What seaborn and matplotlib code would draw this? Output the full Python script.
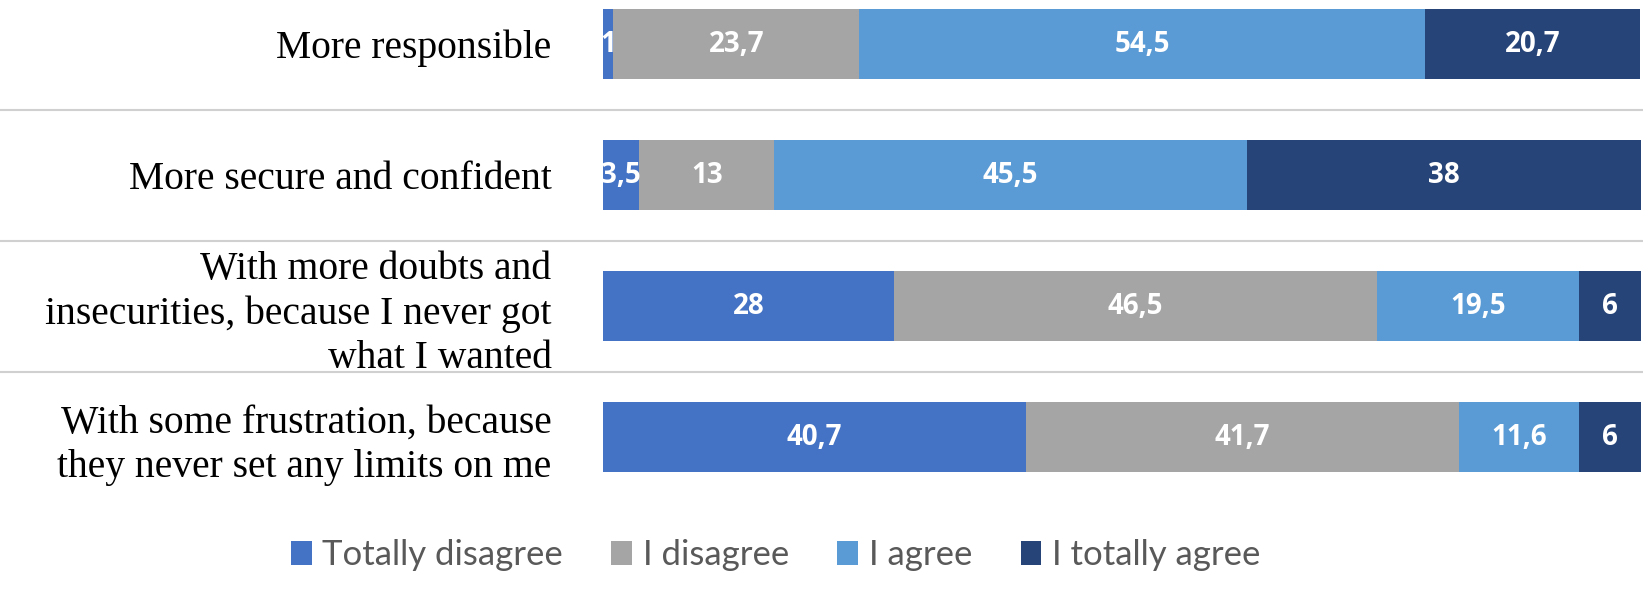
import numpy as np
import pandas as pd
import seaborn as sns
import matplotlib.pyplot as plt
from matplotlib.patches import Patch
from matplotlib.transforms import blended_transform_factory

# datos
items = ["More responsible",
         "More secure and confident",
         "With more doubts and\ninsecurities, because I never got\nwhat I wanted",
         "With some frustration, because\nthey never set any limits on me"]
answers = ["Totally disagree", "I disagree", "I agree", "I totally agree"]
totally_disagree = [1, 3.5, 28, 40.7]
disagree = [23.7, 13, 46.5, 41.7]
agree = [54.5, 45.5, 19.5, 11.6]
totally_agree = [20.7, 38, 6, 6]
colors = ["#4472C4", "#A5A5A5", "#5B9BD5", "#264478"]

df = pd.DataFrame({"item": items,
                   answers[0]: totally_disagree,
                   answers[1]: disagree,
                   answers[2]: agree,
                   answers[3]: totally_agree})
vals = df[answers].to_numpy()
cum = vals.cumsum(axis=1)

sns.set_style("white")
plt.rcParams["font.family"] = ["Lato", "DejaVu Sans"]

fig = plt.figure(figsize=(16.43, 5.92), dpi=100)
ax = fig.add_axes([0.367, 92 / 592, 0.632, 500 / 592])

# barras apiladas: se dibuja la suma acumulada de mayor a menor
for i in reversed(range(len(answers))):
    sns.barplot(x=cum[:, i], y=df["item"], color=colors[i], orient="h",
                width=0.54, saturation=1, linewidth=0, ax=ax)

# etiquetas de cada segmento
for r in range(len(items)):
    for i in range(len(answers)):
        v = vals[r, i]
        ax.text(cum[r, i] - v / 2, r, f"{v:g}".replace(".", ","),
                ha="center", va="center", color="white",
                fontsize=20, fontweight="bold", family="Open Sans")

# lineas separadoras entre filas
trans = blended_transform_factory(fig.transFigure, ax.transData)
for yy in [0.5, 1.5, 2.5]:
    ax.plot([0, 1], [yy, yy], transform=trans, color="#D0D0D0",
            linewidth=1.5, clip_on=False)

ax.set_xlim(0, 100)
ax.set_ylim(3.48, -0.336)
ax.set_xticks([])
ax.set_xlabel("")
ax.set_ylabel("")
sns.despine(ax=ax, left=True, bottom=True)
ax.tick_params(axis="y", length=0, pad=37)
for lab in ax.get_yticklabels():
    lab.set_fontfamily("Liberation Serif")
    lab.set_fontsize(28.5)
    lab.set_linespacing(1.25)
    lab.set_color("black")

handles = [Patch(facecolor=c, edgecolor="none") for c in colors]
fig.legend(handles, answers, loc="center", bbox_to_anchor=(0.472, 0.062),
           ncol=4, frameon=False, fontsize=25, handlelength=0.6,
           handleheight=0.7, handletextpad=0.3, columnspacing=1.4,
           labelcolor="#595959")

fig.savefig("out.png", dpi=100)
